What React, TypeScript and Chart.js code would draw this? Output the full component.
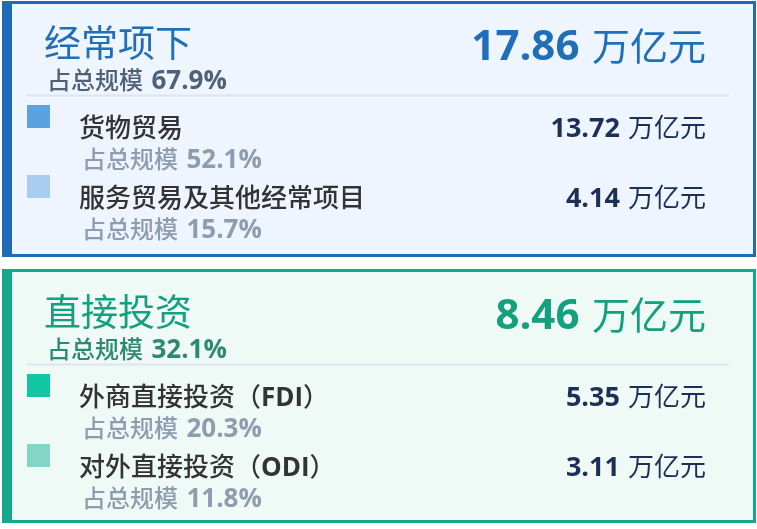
import React, { useEffect, useRef } from 'react';
import { Chart, registerables } from 'chart.js';

Chart.register(...registerables);

// data
const groupNames = ['经常项下', '直接投资'];
const groupTotals = [17.86, 8.46];
const groupShares = [67.9, 32.1];
const itemNames = ['货物贸易', '服务贸易及其他经常项目', '外商直接投资（FDI）', '对外直接投资（ODI）'];
const itemGroups = [0, 0, 1, 1];
const itemValues = [13.72, 4.14, 5.35, 3.11];
const itemShares = [52.1, 15.7, 20.3, 11.8];
const unitLabel = '万亿元';
const shareLabel = '占总规模';

const itemColors = ['#5aa2e0', '#a8cdf0', '#12c6a3', '#84d5c5'];

const themes = [
    { border: '#1f6bb8', bg: '#eef5fe', title: '#1f6fb8', share: '#4f6079' },
    { border: '#14a98a', bg: '#effaf6', title: '#12a07f', share: '#2c8a70' },
];

const FONT = '"Open Sans", "Noto Sans CJK SC", sans-serif';
const CJK = '"Noto Sans CJK SC", sans-serif';

const cardTop = [1, 269];
const cardHeight = [256, 254];
const contentTop = [0, 269];

const cardsPlugin = {
    id: 'cards',
    afterDraw(chart: Chart) {
        const ctx = chart.ctx;
        const values = chart.data.datasets[0].data as number[];
        const colors = chart.data.datasets[0].backgroundColor as string[];
        const labels = chart.data.labels as string[];
        const right = 706;

        const drawValue = (num: string, y: number, numSize: number, unitSize: number, numColor: string, unitColor: string) => {
            ctx.textAlign = 'right';
            ctx.font = `400 ${unitSize}px ${CJK}`;
            ctx.fillStyle = unitColor;
            ctx.fillText(unitLabel, right, y);
            const uw = ctx.measureText(unitLabel).width;
            ctx.font = `bold ${numSize}px ${FONT}`;
            ctx.fillStyle = numColor;
            ctx.fillText(num, right - uw - numSize * 0.3, y);
        };

        const drawShare = (x: number, y: number, size: number, numSize: number, pct: number, labelColor: string, valueColor: string) => {
            ctx.textAlign = 'left';
            ctx.font = `500 ${size}px ${CJK}`;
            ctx.fillStyle = labelColor;
            ctx.fillText(shareLabel, x, y);
            const lw = ctx.measureText(shareLabel).width + size * 0.35;
            ctx.font = `bold ${numSize}px ${FONT}`;
            ctx.fillStyle = valueColor;
            ctx.fillText(pct.toFixed(1) + '%', x + lw, y);
        };

        ctx.save();
        ctx.textBaseline = 'alphabetic';
        groupNames.forEach((name, g) => {
            const th = themes[g];
            const y0 = cardTop[g];
            const h = cardHeight[g];
            const t = contentTop[g];

            // card
            ctx.fillStyle = th.bg;
            ctx.fillRect(2, y0, 754, h);
            ctx.strokeStyle = th.border;
            ctx.lineWidth = 3;
            ctx.strokeRect(3.5, y0 + 1.5, 751, h - 3);
            ctx.fillStyle = th.border;
            ctx.fillRect(2, y0, 10, h);

            // header
            ctx.textAlign = 'left';
            ctx.font = `400 37px ${CJK}`;
            ctx.fillStyle = th.title;
            ctx.fillText(name, 44, t + 57);
            drawShare(47, t + 88.5, 24, 26, groupShares[g], th.share, th.share);
            drawValue(groupTotals[g].toFixed(2), t + 59.5, 42, 38, th.title, th.title);

            // separator
            ctx.strokeStyle = '#dde5f0';
            ctx.lineWidth = 2;
            ctx.beginPath();
            ctx.moveTo(27, t + 95.5);
            ctx.lineTo(729, t + 95.5);
            ctx.stroke();

            // items
            let k = 0;
            labels.forEach((label, i) => {
                if (itemGroups[i] !== g) return;
                const dy = t + k * 70;
                ctx.fillStyle = colors[i];
                ctx.fillRect(27, dy + 105, 23, 23);
                ctx.textAlign = 'left';
                ctx.fillStyle = '#333333';
                const parts = label.split(/([A-Z]+)/);
                let x = 79;
                parts.forEach((p, pi) => {
                    if (!p) return;
                    ctx.font = pi % 2 === 1 ? `bold 26px ${FONT}` : `500 26px ${CJK}`;
                    ctx.fillText(p, x, dy + 137);
                    x += ctx.measureText(p).width;
                });
                drawShare(82, dy + 168, 24, 26, itemShares[i], '#8e9cb0', '#8e9cb0');
                drawValue(values[i].toFixed(2), dy + 137, 27, 26, '#1c2f57', '#1c2f57');
                k++;
            });
        });
        ctx.restore();
    },
};

const App = () => {
    const chartRef = useRef<HTMLCanvasElement>(null);
    const chartInstance = useRef<Chart | null>(null);

    useEffect(() => {
        if (!chartRef.current) return;
        const ctx = chartRef.current.getContext('2d');
        if (!ctx) return;
        if (chartInstance.current) chartInstance.current.destroy();
        chartInstance.current = new Chart(ctx, {
            type: 'bar',
            data: {
                labels: itemNames,
                datasets: [{
                    label: unitLabel,
                    data: itemValues,
                    backgroundColor: itemColors,
                    hidden: true,
                }],
            },
            options: {
                animation: false,
                responsive: false,
                events: [],
                layout: { padding: 0 },
                plugins: {
                    legend: { display: false },
                    tooltip: { enabled: false },
                },
                scales: {
                    x: { display: false },
                    y: { display: false },
                },
            },
            plugins: [cardsPlugin],
        });
        return () => {
            if (chartInstance.current) {
                chartInstance.current.destroy();
                chartInstance.current = null;
            }
        };
    }, []);

    return (
        <div style={{ position: 'fixed', left: 0, top: 0, width: 757, height: 529, background: '#ffffff' }}>
            <canvas ref={chartRef} width={757} height={529} style={{ width: 757, height: 529 }}></canvas>
        </div>
    );
};

export default App;
